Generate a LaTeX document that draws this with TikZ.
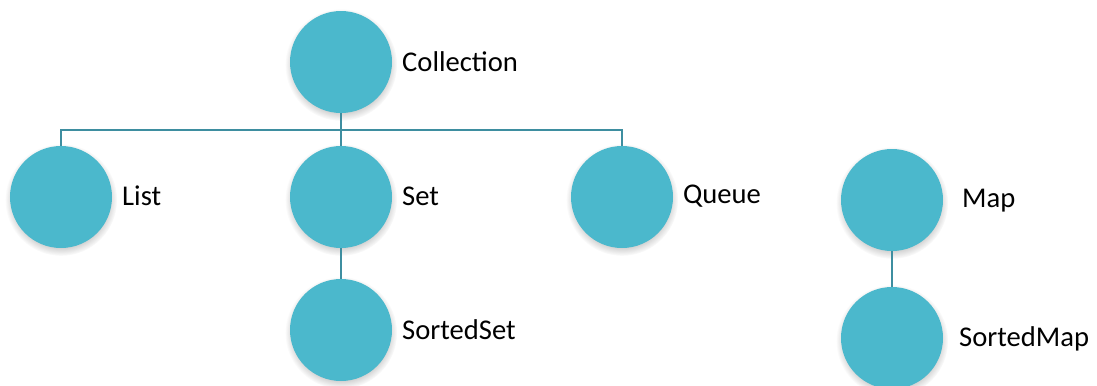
\documentclass[tikz,border=0pt]{standalone}
\usepackage{fontspec}
\setmainfont{Carlito}
\usetikzlibrary{shadows}
\definecolor{ballc}{HTML}{4BB8CC}
\definecolor{linec}{HTML}{3E8EA0}
\begin{document}
\begin{tikzpicture}[x=1bp,y=-1bp,
  ball/.style={circle,fill=ballc,minimum size=102bp,inner sep=0pt,
    circular drop shadow={shadow xshift=0bp,shadow yshift=-2.5bp,opacity=0.25,fill=black!70}},
  lbl/.style={anchor=west,inner sep=0pt,font=\fontsize{28.6bp}{34bp}\selectfont},
  conn/.style={draw=linec,line width=1.8bp}]
\useasboundingbox (0,0) rectangle (1097,385);
\node[ball] (coll) at (341,62) {};
\node[ball] (list) at (61,197) {};
\node[ball] (set) at (341,197) {};
\node[ball] (queue) at (622,197) {};
\node[ball] (sset) at (341,330) {};
\node[ball] (map) at (892,200) {};
\node[ball] (smap) at (892,338) {};
\coordinate (bar) at (341,130);
\draw[conn] (list.north) |- (bar) -| (queue.north);
\draw[conn] (coll.south) -- (set.north);
\draw[conn] (set.south) -- (sset.north);
\draw[conn] (map.south) -- (smap.north);
\node[lbl] (tcoll) at (402,62) {Collection};
\node[lbl] (tlist) at (122,196) {List};
\node[lbl] (tset) at (402,196) {Set};
\node[lbl] (tqueue) at (683,196) {Queue};
\node[lbl] (tsset) at (402,330) {SortedSet};
\node[lbl] (tmap) at (962,201) {Map};
\node[lbl] (tsmap) at (959,339) {SortedMap};
\end{tikzpicture}
\end{document}
